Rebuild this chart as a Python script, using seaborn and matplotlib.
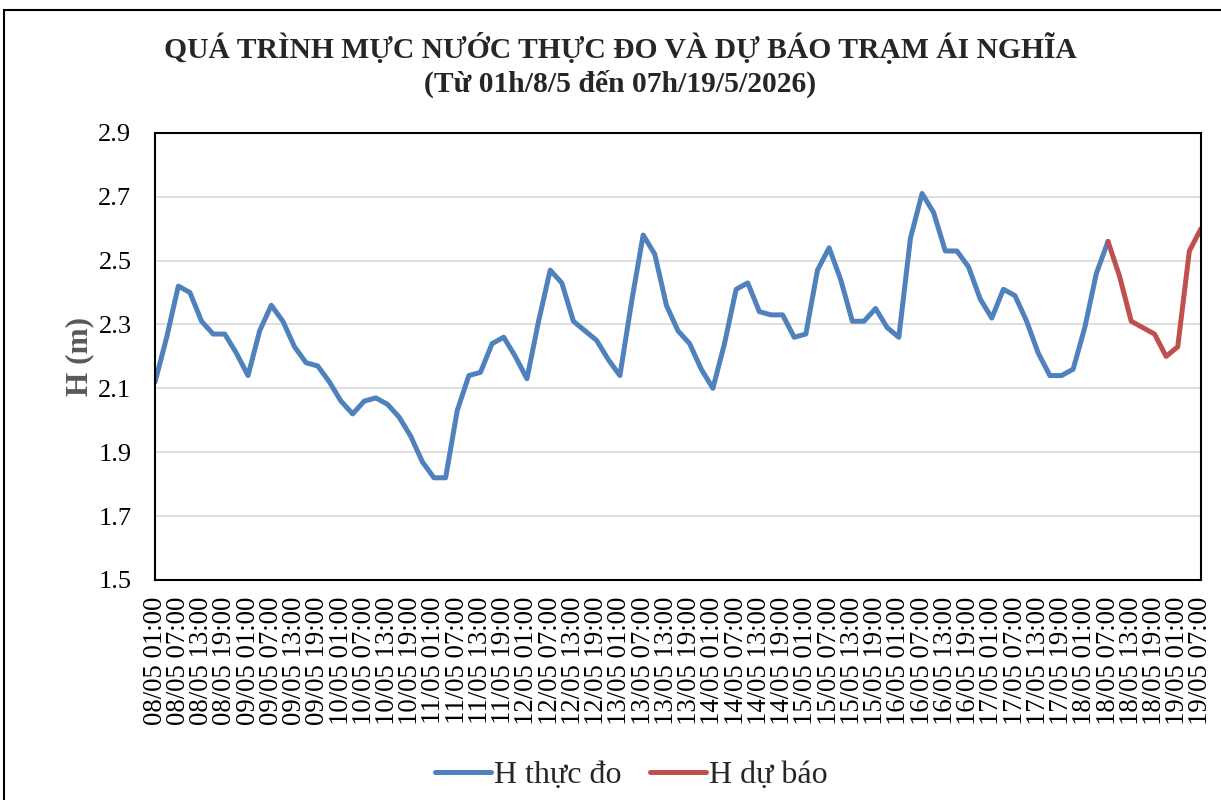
import pandas as pd
import matplotlib
matplotlib.use("Agg")
import matplotlib.pyplot as plt
import seaborn as sns
from matplotlib.patches import Rectangle

# water level readings, every 3 hours from 08/05 01:00
h_obs = [2.12, 2.26, 2.42, 2.40, 2.31, 2.27, 2.27, 2.21, 2.14, 2.28,
         2.36, 2.31, 2.23, 2.18, 2.17, 2.12, 2.06, 2.02, 2.06, 2.07,
         2.05, 2.01, 1.95, 1.87, 1.82, 1.82, 2.03, 2.14, 2.15, 2.24,
         2.26, 2.20, 2.13, 2.31, 2.47, 2.43, 2.31, 2.28, 2.25, 2.19,
         2.14, 2.37, 2.58, 2.52, 2.36, 2.28, 2.24, 2.16, 2.10, 2.24,
         2.41, 2.43, 2.34, 2.33, 2.33, 2.26, 2.27, 2.47, 2.54, 2.44,
         2.31, 2.31, 2.35, 2.29, 2.26, 2.57, 2.71, 2.65, 2.53, 2.53,
         2.48, 2.38, 2.32, 2.41, 2.39, 2.31, 2.21, 2.14, 2.14, 2.16,
         2.29, 2.46, 2.56]
# forecast, every 3 hours from 18/05 07:00
h_fc = [2.56, 2.45, 2.31, 2.29, 2.27, 2.20, 2.23, 2.53, 2.60]

start = pd.Timestamp("2026-05-08 01:00")
fc_start = pd.Timestamp("2026-05-18 07:00")
end = pd.Timestamp("2026-05-19 07:00")

t_obs = pd.date_range(start, periods=len(h_obs), freq="3h")
t_fc = pd.date_range(fc_start, periods=len(h_fc), freq="3h")

lbl_obs = "H thực đo"
lbl_fc = "H dự báo"

df = pd.concat([
    pd.DataFrame({"hour": (t_obs - start) / pd.Timedelta(hours=1), "H": h_obs, "series": lbl_obs}),
    pd.DataFrame({"hour": (t_fc - start) / pd.Timedelta(hours=1), "H": h_fc, "series": lbl_fc}),
])

tick_times = pd.date_range(start, end, freq="6h")
tick_pos = (tick_times - start) / pd.Timedelta(hours=1)
tick_labels = [t.strftime("%d/%m %H:%M") for t in tick_times]
y_ticks = [1.5, 1.7, 1.9, 2.1, 2.3, 2.5, 2.7, 2.9]

sns.set_theme(style="white")
plt.rcParams["font.family"] = ["Liberation Serif", "DejaVu Serif"]

fig = plt.figure(figsize=(12.21, 8), dpi=100)
ax = fig.add_axes([0.127, 0.275, 0.8566, 0.559])

sns.lineplot(data=df, x="hour", y="H", hue="series",
             palette={lbl_obs: "#4F81BD", lbl_fc: "#C0504D"},
             linewidth=3.6, ax=ax, legend=True)
for ln in ax.get_lines():
    ln.set_solid_joinstyle("round")
    ln.set_solid_capstyle("round")

ax.set_xlim(0, tick_pos[-1])
ax.set_ylim(1.5, 2.9)
ax.set_yticks(y_ticks)
ax.set_yticklabels([f"{v:.1f}" for v in y_ticks], fontsize=19)
ax.set_xticks(tick_pos)
ax.set_xticklabels(tick_labels, rotation=90, fontsize=19.3)
ax.tick_params(axis="x", length=0, pad=12, colors="black")
ax.tick_params(axis="y", length=0, pad=17, colors="black")
ax.yaxis.grid(True, color="#D9D9D9", linewidth=1.2)
ax.set_axisbelow(True)
for s in ax.spines.values():
    s.set_color("black")
    s.set_linewidth(1.5)

ax.set_xlabel("")
ax.set_ylabel("H (m)", fontsize=22.5, fontweight="bold", color="#595959", labelpad=3)

fig.text(0.508, 0.94, "QUÁ TRÌNH MỰC NƯỚC THỰC ĐO VÀ DỰ BÁO TRẠM ÁI NGHĨA",
         ha="center", va="center", fontsize=21.3, fontweight="bold")
fig.text(0.508, 0.895, "(Từ 01h/8/5 đến 07h/19/5/2026)",
         ha="center", va="center", fontsize=21.3, fontweight="bold")

handles, labels = ax.get_legend_handles_labels()
ax.legend(handles, labels, loc="center", bbox_to_anchor=(0.517, 0.031),
          bbox_transform=fig.transFigure, ncol=2, frameon=False, fontsize=23,
          handlelength=1.75, handletextpad=0.1, columnspacing=0.9)

fig.add_artist(Rectangle((0.0033, -0.2), 1.2, 1.1875, transform=fig.transFigure,
                         fill=False, edgecolor="black", linewidth=1.5))

fig.savefig("out.png", dpi=100)
